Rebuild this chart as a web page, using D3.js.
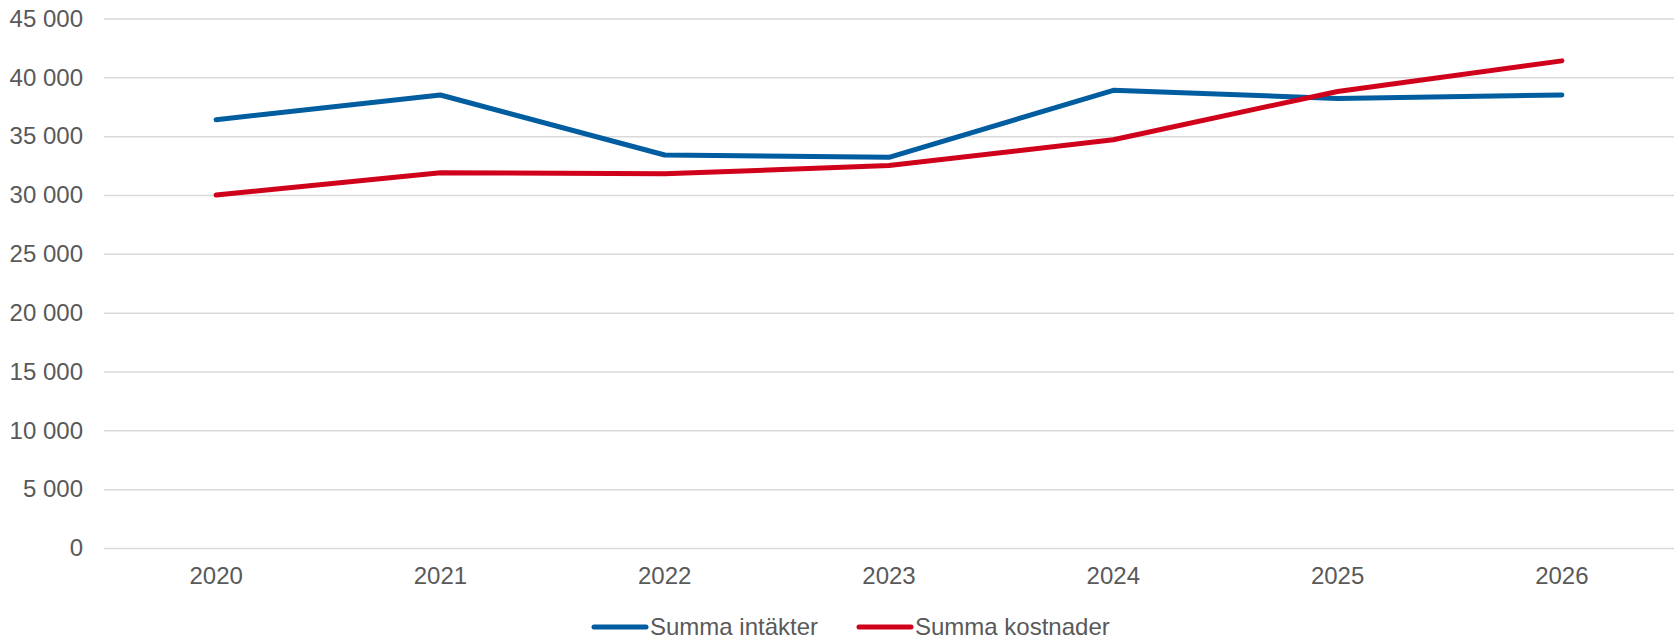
<!DOCTYPE html>
<html>
<head>
<meta charset="utf-8">
<script src="https://cdn.jsdelivr.net/npm/d3@7"></script>
<style>
  html, body { margin: 0; padding: 0; background: #ffffff; }
  svg { display: block; }
  text { font-family: "Liberation Sans", Arial, sans-serif; fill: #595959; }
</style>
</head>
<body>
<svg id="chart" width="1680" height="640"></svg>
<script>
const categories = ["2020", "2021", "2022", "2023", "2024", "2025", "2026"];
const intakter = [36400, 38500, 33400, 33200, 38900, 38200, 38500];
const kostnader = [30000, 31900, 31800, 32500, 34700, 38800, 41400];
const yTicks = [0, 5000, 10000, 15000, 20000, 25000, 30000, 35000, 40000, 45000];
const seriesNames = ["Summa intäkter", "Summa kostnader"];
const seriesColors = ["#005da0", "#d0021b"];

const svg = d3.select("#chart");
const margin = { left: 104, right: 6, top: 18.5, bottom: 92 };
const W = 1680, H = 640;

const x = d3.scaleBand().domain(categories).range([margin.left, W - margin.right]);
const y = d3.scaleLinear().domain([0, 45000]).range([H - margin.bottom, margin.top]);

const fmt = v => d3.format(",")(v).replace(/,/g, " ");

// gridlines
const yAxis = d3.axisLeft(y).tickValues(yTicks).tickSize(-(W - margin.left - margin.right)).tickFormat(fmt).tickPadding(21);
const gy = svg.append("g").attr("transform", `translate(${margin.left},0)`).call(yAxis);
gy.select(".domain").remove();
gy.selectAll(".tick line").attr("stroke", "#d9d9d9").attr("stroke-width", 1.5);
gy.selectAll(".tick text").attr("font-size", 24).attr("fill", "#595959")
  .style("font-family", "'Liberation Sans', Arial, sans-serif");

// x axis labels
const xAxis = d3.axisBottom(x).tickSize(0).tickPadding(19);
const gx = svg.append("g").attr("transform", `translate(0,${y(0)})`).call(xAxis);
gx.select(".domain").remove();
gx.selectAll(".tick text").attr("font-size", 24).attr("fill", "#595959")
  .style("font-family", "'Liberation Sans', Arial, sans-serif");

const line = d3.line().x((d, i) => x(categories[i]) + x.bandwidth() / 2).y(d => y(d));

[intakter, kostnader].forEach((s, k) => {
  svg.append("path").datum(s)
    .attr("d", line)
    .attr("fill", "none")
    .attr("stroke", seriesColors[k])
    .attr("stroke-width", 5)
    .attr("stroke-linecap", "round")
    .attr("stroke-linejoin", "round");
});

// legend
const legendY = 627;
const legendItems = [
  { x0: 594, name: seriesNames[0], color: seriesColors[0] },
  { x0: 859, name: seriesNames[1], color: seriesColors[1] }
];
legendItems.forEach(it => {
  svg.append("line").attr("x1", it.x0).attr("x2", it.x0 + 52)
    .attr("y1", legendY).attr("y2", legendY)
    .attr("stroke", it.color).attr("stroke-width", 5).attr("stroke-linecap", "round");
  svg.append("text").attr("x", it.x0 + 56).attr("y", legendY + 8)
    .attr("font-size", 24).text(it.name);
});
</script>
</body>
</html>
